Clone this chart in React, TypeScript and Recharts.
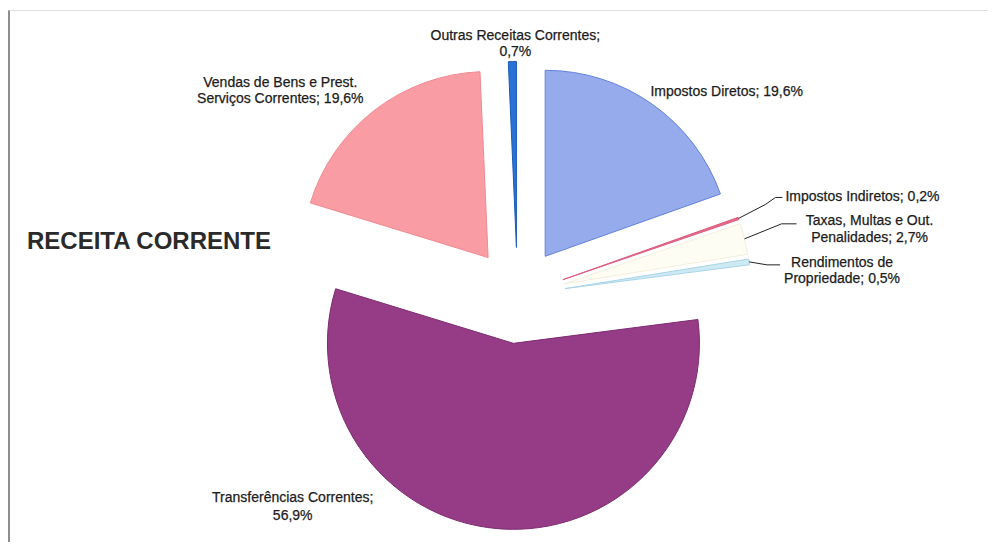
import { PieChart, Pie, Cell } from "recharts";

// Receita corrente, shares in %
const categories = [
  "Impostos Diretos",
  "Impostos Indiretos",
  "Taxas, Multas e Out. Penalidades",
  "Rendimentos de Propriedade",
  "Transferências Correntes",
  "Vendas de Bens e Prest. Serviços Correntes",
  "Outras Receitas Correntes",
];
const shares = [19.6, 0.2, 2.7, 0.5, 56.9, 19.6, 0.7];
const labelTexts = [
  ["Impostos Diretos; 19,6%"],
  ["Impostos Indiretos; 0,2%"],
  ["Taxas, Multas e Out.", "Penalidades; 2,7%"],
  ["Rendimentos de", "Propriedade; 0,5%"],
  ["Transferências Correntes;", "56,9%"],
  ["Vendas de Bens e Prest.", "Serviços Correntes; 19,6%"],
  ["Outras Receitas Correntes;", "0,7%"],
];

const data = categories.map((name, i) => ({ name, value: shares[i] }));

const FILLS = ["#96abeb", "#e46a88", "#fefdf4", "#cde9f4", "#963c87", "#f99ca3", "#2a72d4"];
const STROKES = ["#6382dc", "#dc5c7e", "#f3efdc", "#a9d5e8", "#7d2b70", "#f08a92", "#1a5cb8"];

// label offsets from the outer middle of each slice
const LABEL_LAYOUT: any[] = [
  { dx: -2, dy: -8, anchor: "start", lh: 16, leader: null },
  { dx: 47, dy: -17, anchor: "start", lh: 16, leader: [[27, -14], [37, -21], [44, -21]] },
  { dx: 125, dy: -14, anchor: "middle", lh: 17, leader: [[37, -15], [52, -15]] },
  { dx: 93, dy: 5, anchor: "middle", lh: 16, leader: [[18, 3], [31, 3]] },
  { dx: -205, dy: -27, anchor: "middle", lh: 18, leader: null },
  { dx: -94, dy: -23, anchor: "middle", lh: 16, leader: null },
  { dx: 3, dy: -22, anchor: "middle", lh: 16, leader: null },
];

const W = 980;
const H = 534;
const CX = 509.5;
const CY = 287.5;
const R = 186;
const EXPLODE = 48;
const RAD = Math.PI / 180;
const FONT = "'Liberation Sans', Arial, sans-serif";

const total = shares.reduce((a, b) => a + b, 0);
let acc = 0;
const mids = shares.map((v) => {
  const m = ((acc + v / 2) / total) * 360;
  acc += v;
  return m;
});

function renderLabel(props: any, idx: number) {
  if (props.index !== idx) return null;
  const { cx, cy, midAngle, outerRadius } = props;
  const ax = cx + outerRadius * Math.cos(-midAngle * RAD);
  const ay = cy + outerRadius * Math.sin(-midAngle * RAD);
  const lay = LABEL_LAYOUT[idx];
  const lines = labelTexts[idx];
  return (
    <g key={`lbl-${idx}`}>
      {lay.leader && (
        <polyline
          points={[[0, 0], ...lay.leader].map(([x, y]) => `${ax + x},${ay + y}`).join(" ")}
          fill="none"
          stroke="#222"
          strokeWidth={1}
        />
      )}
      <text
        x={ax + lay.dx}
        y={ay + lay.dy}
        textAnchor={lay.anchor}
        fontFamily={FONT}
        fontSize={14}
        fill="#1c1c1c"
        stroke="#1c1c1c"
        strokeWidth={0.25}
      >
        {lines.map((t: string, k: number) => (
          <tspan key={k} x={ax + lay.dx} dy={k === 0 ? 0 : lay.lh}>
            {t}
          </tspan>
        ))}
      </text>
    </g>
  );
}

export default function App() {
  return (
    <div style={{ position: "relative", width: W, height: H, overflow: "hidden", background: "#fff" }}>
      <div
        style={{
          position: "absolute",
          left: 0,
          top: 2,
          right: 0,
          bottom: 0,
          borderLeft: "2px solid #8f8f8f",
          borderTop: "1px solid #dedede",
          pointerEvents: "none",
        }}
      />
      <div
        style={{
          position: "absolute",
          left: 19,
          top: 221,
          fontFamily: FONT,
          fontSize: 24,
          lineHeight: "24px",
          fontWeight: "bold",
          color: "#2a2a2a",
          whiteSpace: "nowrap",
        }}
      >
        RECEITA CORRENTE
      </div>
      <div style={{ position: "absolute", left: 0, top: 0 }}>
        <PieChart width={W} height={H} margin={{ top: 0, right: 0, bottom: 0, left: 0 }}>
          {data.map((_, i) => {
            const t = mids[i] * RAD;
            return (
              <Pie
                key={`pie-${i}`}
                data={data}
                dataKey="value"
                nameKey="name"
                cx={CX + EXPLODE * Math.sin(t)}
                cy={CY - EXPLODE * Math.cos(t)}
                innerRadius={0}
                outerRadius={R}
                startAngle={90}
                endAngle={-270}
                isAnimationActive={false}
                labelLine={false}
                label={(p: any) => renderLabel(p, i)}
              >
                {data.map((_, j) => (
                  <Cell
                    key={`cell-${j}`}
                    fill={j === i ? FILLS[j] : "none"}
                    stroke={j === i ? STROKES[j] : "none"}
                    strokeWidth={1}
                  />
                ))}
              </Pie>
            );
          })}
        </PieChart>
      </div>
    </div>
  );
}
